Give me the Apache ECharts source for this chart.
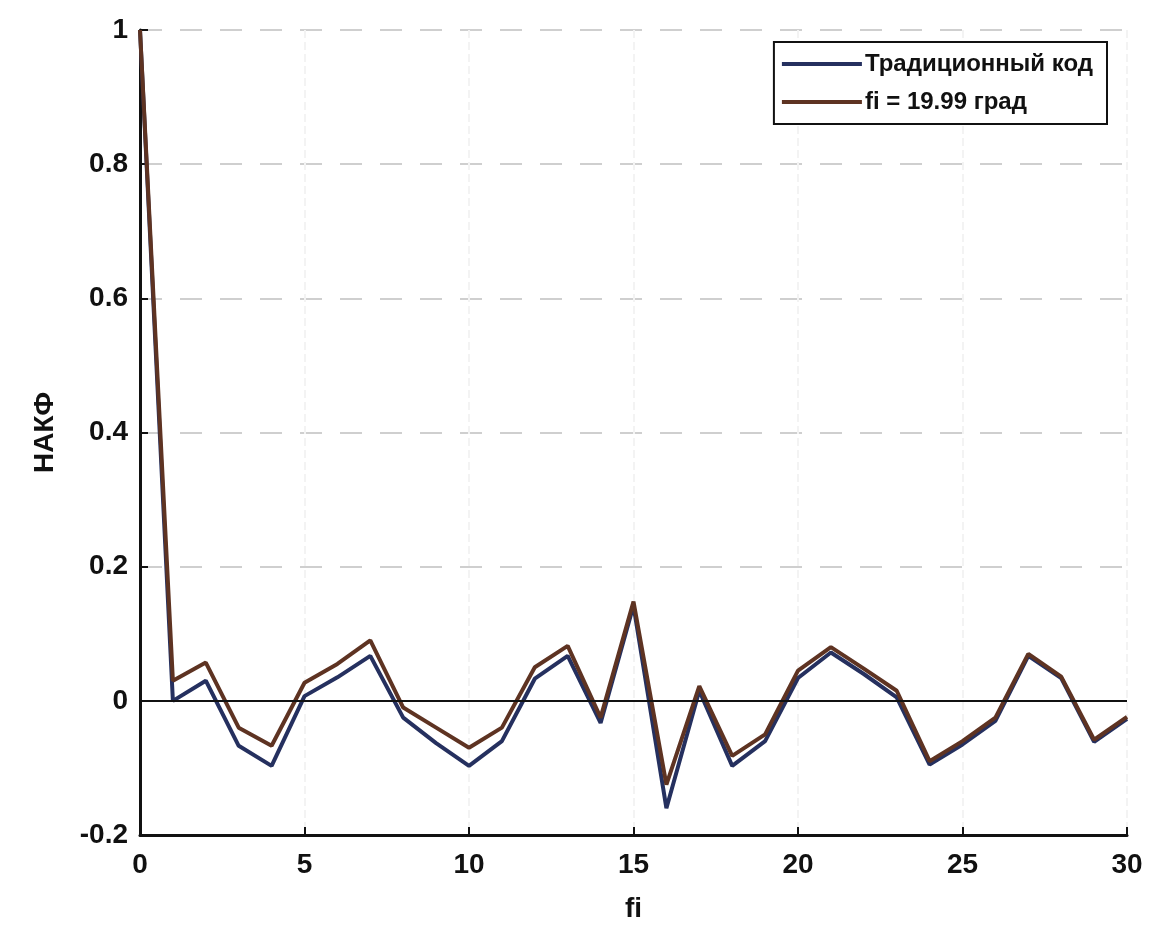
<!DOCTYPE html>
<html>
<head>
<meta charset="utf-8">
<script src="https://cdn.jsdelivr.net/npm/echarts@6/dist/echarts.min.js"></script>
<style>
  html, body { margin: 0; padding: 0; background: #fff; }
  #chart { width: 1159px; height: 928px; }
</style>
</head>
<body>
<div id="chart"></div>
<script>
// lag values 0..30
const lags = [0, 1, 2, 3, 4, 5, 6, 7, 8, 9, 10, 11, 12, 13, 14, 15,
  16, 17, 18, 19, 20, 21, 22, 23, 24, 25, 26, 27, 28, 29, 30];

// Традиционный код
const traditional = [1, 0.0, 0.03, -0.067, -0.097, 0.007, 0.035, 0.067, -0.025, -0.063, -0.097,
  -0.06, 0.033, 0.067, -0.033, 0.142, -0.16, 0.015, -0.097, -0.06, 0.034,
  0.072, 0.04, 0.005, -0.095, -0.065, -0.03, 0.067, 0.034, -0.061, -0.027];

// fi = 19.99 град
const fi1999 = [1, 0.03, 0.057, -0.04, -0.067, 0.027, 0.055, 0.09, -0.01, -0.04, -0.07,
  -0.04, 0.05, 0.082, -0.025, 0.148, -0.125, 0.022, -0.082, -0.05, 0.045,
  0.08, 0.048, 0.015, -0.09, -0.06, -0.025, 0.07, 0.036, -0.058, -0.024];

const seriesNames = ["Традиционный код", "fi = 19.99 град"];
const xLabel = "fi";
const yLabel = "НАКФ";

const font = "'Liberation Sans', Arial, sans-serif";
const chart = echarts.init(document.getElementById("chart"));

const option = {
  backgroundColor: "#fff",
  animation: false,
  grid: { left: 140, right: 32, top: 30, bottom: 93 },
  legend: {
    data: seriesNames,
    orient: "vertical",
    right: 52,
    top: 42,
    itemWidth: 80,
    itemHeight: 4,
    itemGap: 14,
    padding: [10, 14, 10, 8],
    backgroundColor: "#fff",
    borderColor: "#111",
    borderWidth: 2,
    icon: "rect",
    textStyle: { fontFamily: font, fontWeight: "bold", fontSize: 24, color: "#111", padding: [0, 0, 0, -2] }
  },
  xAxis: {
    type: "value",
    min: 0,
    max: 30,
    interval: 5,
    name: xLabel,
    nameLocation: "middle",
    nameGap: 60,
    nameTextStyle: { fontFamily: font, fontWeight: "bold", fontSize: 28, color: "#111" },
    axisLine: { onZero: false, lineStyle: { color: "#111", width: 3 } },
    axisTick: { inside: true, length: 8, lineStyle: { color: "#111", width: 2 } },
    axisLabel: { fontFamily: font, fontWeight: "bold", fontSize: 28, color: "#111", margin: 16 },
    splitLine: { show: true, lineStyle: { color: "#f3f3f3", type: "dashed", width: 2 } }
  },
  yAxis: {
    type: "value",
    min: -0.2,
    max: 1,
    interval: 0.2,
    name: yLabel,
    nameLocation: "middle",
    nameGap: 81,
    nameTextStyle: { fontFamily: font, fontWeight: "bold", fontSize: 28, color: "#111" },
    axisLine: { show: true, lineStyle: { color: "#111", width: 3 } },
    axisTick: { show: true, inside: true, length: 8, lineStyle: { color: "#111", width: 2 } },
    axisLabel: { fontFamily: font, fontWeight: "bold", fontSize: 28, color: "#111", margin: 12 },
    splitLine: { show: true, lineStyle: { color: "#cfcfcf", type: [22, 18], width: 2 } }
  },
  series: [
    {
      name: seriesNames[0],
      type: "line",
      data: lags.map((x, i) => [x, traditional[i]]),
      symbol: "none",
      lineStyle: { color: "#25305f", width: 4 },
      itemStyle: { color: "#25305f" },
      markLine: {
        silent: true,
        symbol: "none",
        label: { show: false },
        lineStyle: { color: "#111", width: 2, type: "solid" },
        data: [{ yAxis: 0 }]
      },
      z: 3
    },
    {
      name: seriesNames[1],
      type: "line",
      data: lags.map((x, i) => [x, fi1999[i]]),
      symbol: "none",
      lineStyle: { color: "#5e3322", width: 4 },
      itemStyle: { color: "#5e3322" },
      z: 4
    }
  ]
};

chart.setOption(option);
</script>
</body>
</html>
